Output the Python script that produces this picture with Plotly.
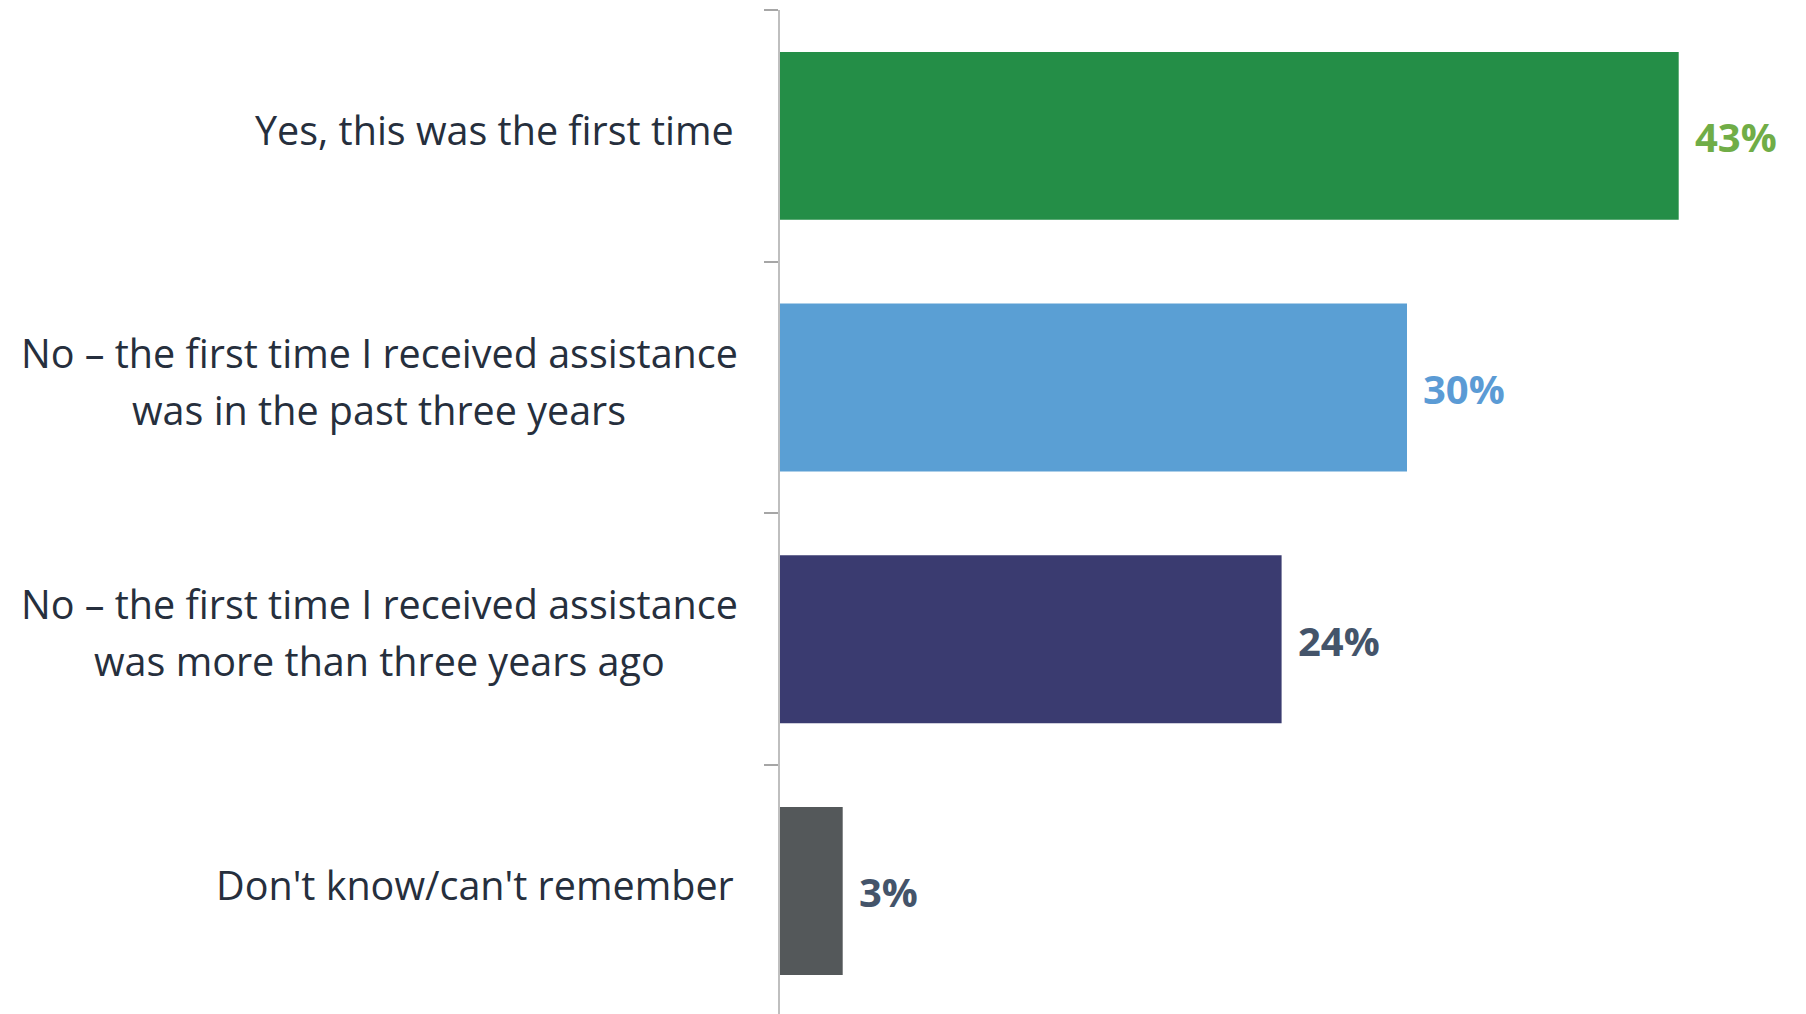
import plotly.graph_objects as go

categories = [
    "Yes, this was the first time",
    "No – the first time I received assistance<br>was in the past three years",
    "No – the first time I received assistance<br>was more than three years ago",
    "Don't know/can't remember",
]
values = [43, 30, 24, 3]
bar_colors = ["#248E47", "#5A9FD4", "#3A3B70", "#54585A"]
value_label_colors = ["#70AD47", "#5B9BD5", "#44546A", "#44546A"]

W, H = 1790, 1006
LEFT, TOP = 772, 2
CAT_PX = 251.7
PX_PER_UNIT = 20.9

fig = go.Figure()
fig.add_trace(go.Bar(
    y=categories, x=values, orientation="h", width=0.667,
    marker=dict(color=bar_colors, line=dict(width=0)),
    hoverinfo="skip",
))

plot_h = H - TOP
y_span = plot_h / CAT_PX
x_max = (W - LEFT) / PX_PER_UNIT

annotations = []
label_font = dict(family="Open Sans", size=39.5, color="#262F3D")
for cat in categories:
    lines = cat.split("<br>")
    if len(lines) == 1:
        annotations.append(dict(
            x=0, xref="paper", y=cat, yref="y", text=lines[0],
            xanchor="right", yanchor="middle", xshift=-44, yshift=6,
            showarrow=False, font=label_font,
        ))
    else:
        shifts = [35, -22]
        for ln, ys in zip(lines, shifts):
            annotations.append(dict(
                x=0, xref="paper", y=cat, yref="y", text=ln,
                xanchor="center", yanchor="middle", xshift=-401, yshift=ys,
                showarrow=False, font=label_font,
            ))

for cat, v, c in zip(categories, values, value_label_colors):
    annotations.append(dict(
        x=v, xref="x", y=cat, yref="y", text=f"<b>{v}%</b>",
        xanchor="left", yanchor="middle", xshift=14, yshift=-1,
        showarrow=False, font=dict(family="Open Sans", size=40, color=c),
    ))

fig.update_layout(
    width=W, height=H,
    margin=dict(l=LEFT, r=0, t=TOP, b=0, pad=0),
    paper_bgcolor="white", plot_bgcolor="white",
    showlegend=False,
    bargap=0.333,
    annotations=annotations,
    xaxis=dict(range=[0, x_max], visible=False, fixedrange=True),
    yaxis=dict(
        type="category", categoryorder="array", categoryarray=categories,
        range=[y_span - 0.5, -0.5],
        showticklabels=False, showgrid=False, zeroline=False,
        ticks="outside", tickson="boundaries", ticklen=14,
        tickcolor="#A6A6A6", tickwidth=2,
        showline=True, linecolor="#BFBFBF", linewidth=2,
    ),
)

fig.write_html("out.html")
